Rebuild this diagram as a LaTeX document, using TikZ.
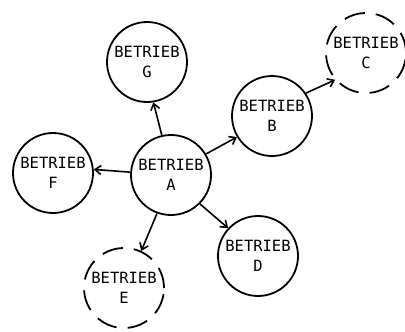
\documentclass[tikz,border=0pt]{standalone}
\usepackage{fontspec}
\newfontfamily\typew{DejaVu Sans Mono}
\usetikzlibrary{arrows.meta}
\tikzset{
  firm/.style={circle, draw, line width=1.8pt, minimum size=80pt, inner sep=0pt,
    align=center, font=\typew\fontsize{15.5}{20}\selectfont},
  dashfirm/.style={firm, dash pattern=on 21pt off 11pt},
  link/.style={line width=1.6pt, -{Straight Barb[length=6pt,width=9pt,line width=1.6pt]}}
}
\begin{document}
\begin{tikzpicture}[x=1pt,y=-1pt]
\useasboundingbox (0,0) rectangle (405,332);
\node[firm] (A) at (171,175) {BETRIEB\\A};
\node[firm] (G) at (147,62) {BETRIEB\\G};
\node[firm] (B) at (272,116) {BETRIEB\\B};
\node[firm] (F) at (53,173) {BETRIEB\\F};
\node[firm] (D) at (258,256) {BETRIEB\\D};
\node[dashfirm] (C) at (366,53) {BETRIEB\\C};
\node[dashfirm] (E) at (124,288) {BETRIEB\\E};
\draw[link] (A.103) -- (G.279);
\draw[link] (A.31) -- (B.211);
\draw[link] (A.176) -- (F.5);
\draw[link] (A.-45) -- (D.137);
\draw[link] (A.250) -- (E.65);
\draw[link] (B.34) -- (C.221);
\end{tikzpicture}
\end{document}
